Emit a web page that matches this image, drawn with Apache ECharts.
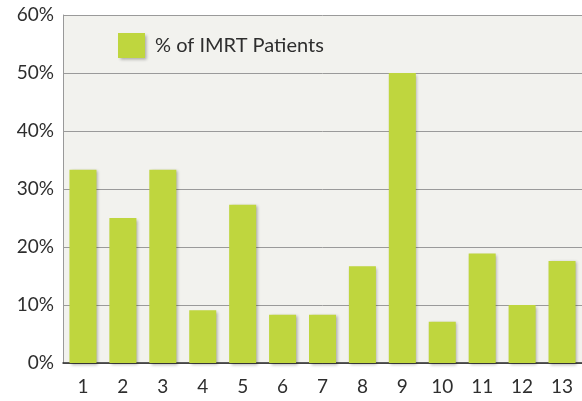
<!DOCTYPE html>
<html>
<head>
<meta charset="utf-8">
<script src="https://cdn.jsdelivr.net/npm/echarts@6/dist/echarts.min.js"></script>
<style>
html,body{margin:0;padding:0;background:#fff;}
#c{width:582px;height:401px;}
</style>
</head>
<body>
<div id="c"></div>
<script>
const categories = ['1','2','3','4','5','6','7','8','9','10','11','12','13'];
const imrtPercent = [33.3, 25.0, 33.3, 9.1, 27.3, 8.3, 8.3, 16.7, 50.0, 7.1, 18.9, 10.0, 17.6];
const seriesName = '% of IMRT Patients';
const yTicks = [0, 10, 20, 30, 40, 50, 60];

const FONT = 'Lato, "Liberation Sans", sans-serif';
const chart = echarts.init(document.getElementById('c'), null, {renderer: 'canvas'});
chart.setOption({
  animation: false,
  backgroundColor: '#ffffff',
  legend: {
    data: [{name: seriesName, icon: 'rect'}],
    left: 118,
    top: 33,
    padding: 0,
    itemWidth: 27,
    itemHeight: 25,
    itemStyle: {shadowColor: 'rgba(0,0,0,0.3)', shadowBlur: 3, shadowOffsetX: 1.5, shadowOffsetY: 1.5},
    textStyle: {fontFamily: FONT, fontSize: 20, color: '#2e2e2e', padding: [0, 0, 0, 5]}
  },
  grid: {
    left: 63, top: 15, width: 522, bottom: 38,
    show: true, backgroundColor: '#f2f2ee', borderWidth: 0
  },
  xAxis: {
    type: 'category',
    data: categories,
    axisTick: {show: false},
    axisLine: {show: true, lineStyle: {color: '#2a2a2a', width: 1.5}},
    axisLabel: {fontFamily: FONT, fontSize: 19, color: '#2e2e2e', margin: 14}
  },
  yAxis: {
    type: 'value',
    min: yTicks[0],
    max: yTicks[yTicks.length - 1],
    interval: 10,
    axisLine: {show: true, lineStyle: {color: '#999999', width: 1}},
    axisTick: {show: false},
    splitLine: {show: true, lineStyle: {color: '#9a9a9a', width: 1}},
    axisLabel: {fontFamily: FONT, fontSize: 19, color: '#2e2e2e', margin: 9, formatter: v => v + '%'}
  },
  series: [{
    name: seriesName,
    type: 'bar',
    data: imrtPercent,
    barWidth: 27,
    itemStyle: {
      color: '#bfd63e',
      shadowColor: 'rgba(0,0,0,0.3)', shadowBlur: 3, shadowOffsetX: 1.5, shadowOffsetY: 1.5
    }
  }]
});
</script>
</body>
</html>
